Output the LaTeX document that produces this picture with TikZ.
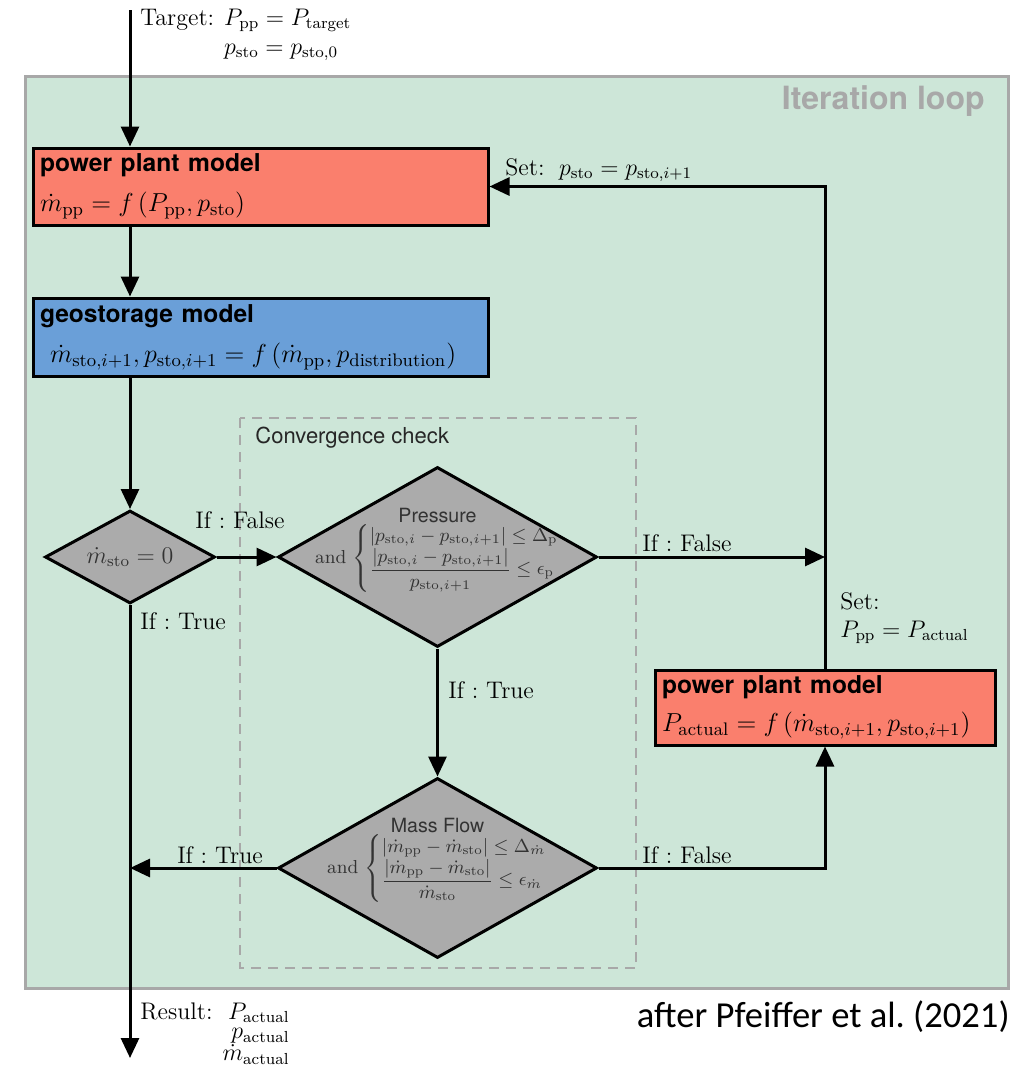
\RequirePackage{fix-cm}
\documentclass[tikz,border=0pt]{standalone}
\usepackage{amsmath}
\usepackage{amssymb}
\usepackage{fontspec}
\newfontfamily\heros{TeX Gyre Heros}
\newfontfamily\carlito{Carlito}
\usetikzlibrary{shapes.geometric,arrows.meta}
\frenchspacing

\definecolor{loopgreen}{HTML}{CDE6D8}
\definecolor{ppred}{HTML}{FA7F6D}
\definecolor{geoblue}{HTML}{6A9FD8}
\definecolor{checkgray}{HTML}{ABABAB}
\definecolor{framegray}{HTML}{A8A8A8}

\begin{document}
\begin{tikzpicture}[x=0.5pt, y=-0.5pt,
  model/.style={draw, line width=1.5pt, rectangle, align=left, inner xsep=3.5pt, inner ysep=0pt, minimum height=38.5pt, font=\fontsize{13}{16}\selectfont},
  check/.style={draw, line width=1.5pt, diamond, fill=checkgray, inner sep=0pt},
  checktext/.style={align=center, inner sep=0pt, text=black!80, font=\fontsize{9.4}{12}\selectfont},
  flow/.style={line width=1.5pt, -{Triangle[length=10pt,width=9pt]}},
  cond/.style={inner sep=0pt, font=\fontsize{12}{14}\selectfont}]

  \useasboundingbox (0,0) rectangle (1025,1066);

  % Frames
  \draw[fill=loopgreen, draw=framegray, line width=1.5pt] (25,76) rectangle (1008,988);
  \node[anchor=east, inner sep=0pt, text=framegray, font=\heros\bfseries\fontsize{16}{18}\selectfont] (looplabel) at (985,101) {Iteration loop};
  \draw[draw=framegray, line width=1pt, dash pattern=on 5pt off 3.5pt] (240,418) rectangle (636,968);
  \node[anchor=west, inner sep=0pt, text=black!85, font=\heros\fontsize{11}{13}\selectfont] (convlabel) at (255,438) {Convergence check};

  % Nodes
  \node[model, fill=ppred, text width=220.5pt] (pp) at (260.5,186.5)
    {{\heros\bfseries\fontsize{12.3}{15}\selectfont power plant model}\\[4pt]
     $\dot m_{\mathrm{pp}} = f\left(P_{\mathrm{pp}}, p_{\mathrm{sto}}\right)$};
  \node[model, fill=geoblue, text width=220.5pt, minimum height=39pt] (geo) at (260.5,337)
    {{\heros\bfseries\fontsize{12.3}{15}\selectfont geostorage model}\\[4pt]
     \hspace{5pt}$\dot m_{\mathrm{sto},i+1}, p_{\mathrm{sto},i+1} = f\left(\dot m_{\mathrm{pp}}, p_{\mathrm{distribution}}\right)$};
  \node[model, fill=ppred, text width=163pt, minimum height=37.5pt] (pp2) at (825,707.5)
    {{\heros\bfseries\fontsize{12.3}{15}\selectfont power plant model}\\[3pt]
     \mbox{$P_{\mathrm{actual}} = f\left(\dot m_{\mathrm{sto},i+1}, p_{\mathrm{sto},i+1}\right)$}};

  \node[check, aspect=2, minimum width=85pt, minimum height=46.5pt, text=black!80, font=\fontsize{12}{14}\selectfont] (zero) at (130,557) {$\dot m_{\mathrm{sto}} = 0$};
  \node[check, minimum width=159.5pt, minimum height=90pt] (press) at (437.5,557) {};
  \node[check, minimum width=159.5pt, minimum height=90pt] (mass) at (437.5,868) {};

  \node[checktext] (presstext) at (437.5,550)
    {{\heros\fontsize{9.8}{12}\selectfont Pressure}\\
     $\mathrm{and}\,\left\{\begin{array}{@{}l@{}}
       \left|p_{\mathrm{sto},i}-p_{\mathrm{sto},i+1}\right| \le \Delta_{\mathrm{p}}\\
       \dfrac{\left|p_{\mathrm{sto},i}-p_{\mathrm{sto},i+1}\right|}{p_{\mathrm{sto},i+1}} \le \epsilon_{\mathrm{p}}
     \end{array}\right.$};
  \node[checktext] (masstext) at (437.5,860)
    {{\heros\fontsize{9.8}{12}\selectfont Mass Flow}\\
     $\mathrm{and}\,\left\{\begin{array}{@{}l@{}}
       \left|\dot m_{\mathrm{pp}}-\dot m_{\mathrm{sto}}\right| \le \Delta_{\dot m}\\
       \dfrac{\left|\dot m_{\mathrm{pp}}-\dot m_{\mathrm{sto}}\right|}{\dot m_{\mathrm{sto}}} \le \epsilon_{\dot m}
     \end{array}\right.$};

  % Texts
  \node[cond, anchor=north west] (target) at (140,5)
    {\begin{tabular}{@{}l@{\hspace{5pt}}l@{}}
      Target: & $P_{\mathrm{pp}} = P_{\mathrm{target}}$\\[0.5pt]
              & $p_{\mathrm{sto}} = p_{\mathrm{sto},0}$
     \end{tabular}};
  \node[cond, anchor=north west] (result) at (140,1002)
    {\renewcommand{\arraystretch}{0.7}%
     \begin{tabular}{@{}l@{\hspace{5pt}}r@{}}
      Result: & $P_{\mathrm{actual}}$\\
              & $p_{\mathrm{actual}}$\\
              & $\dot m_{\mathrm{actual}}$
     \end{tabular}};
  \node[cond, anchor=west] (setp) at (505,170) {Set:\; $p_{\mathrm{sto}} = p_{\mathrm{sto},i+1}$};
  \node[cond, anchor=north west, align=left] (setP) at (840,592) {Set:\\ $P_{\mathrm{pp}} = P_{\mathrm{actual}}$};

  \node[cond] (falseA) at (240,520) {If : False};
  \node[cond, anchor=west] (trueA) at (140,621) {If : True};
  \node[cond] (falseB) at (687,543) {If : False};
  \node[cond, anchor=west] (trueB) at (448,690) {If : True};
  \node[cond] (trueC) at (220,855) {If : True};
  \node[cond] (falseC) at (687,855) {If : False};

  \node[anchor=east, inner sep=0pt, font=\carlito\fontsize{18.3}{22}\selectfont] (credit) at (1010,1017) {after Pfeiffer et al. (2021)};

  % Arrows
  \coordinate (in) at (130,10);
  \coordinate (out) at (130,1058);
  \draw[flow] (in) -- (in |- pp.north);
  \draw[flow] (pp.south -| in) -- (geo.north -| in);
  \draw[flow] (geo.south -| in) -- (zero.north);
  \draw[flow] (zero.east) -- (press.west);
  \draw[flow] (zero.south) -- (out);
  \draw[flow] (press.east) -- (press.east -| pp2.north);
  \draw[flow] (press.south) -- (mass.north);
  \draw[flow] (mass.west) -- (mass.west -| zero.south);
  \draw[flow] (mass.east) -| (pp2.south);
  \draw[flow] (pp2.north) |- (pp.east);
\end{tikzpicture}
\end{document}
